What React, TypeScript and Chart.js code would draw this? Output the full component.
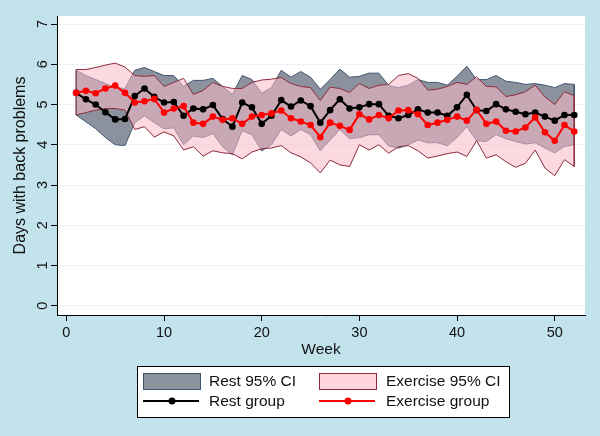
import { useEffect, useRef } from "react";
import { Chart, registerables } from "chart.js";

Chart.register(...registerables);

const weeks = [1, 2, 3, 4, 5, 6, 7, 8, 9, 10, 11, 12, 13, 14, 15, 16, 17, 18, 19, 20, 21, 22, 23, 24, 25, 26, 27, 28, 29, 30, 31, 32, 33, 34, 35, 36, 37, 38, 39, 40, 41, 42, 43, 44, 45, 46, 47, 48, 49, 50, 51, 52];

const restMean = [5.29, 5.13, 5.0, 4.81, 4.63, 4.64, 5.21, 5.4, 5.19, 5.05, 5.06, 4.72, 4.9, 4.88, 4.99, 4.64, 4.45, 5.05, 4.93, 4.52, 4.72, 5.11, 4.95, 5.1, 4.96, 4.55, 4.86, 5.13, 4.9, 4.93, 5.01, 5.01, 4.72, 4.66, 4.74, 4.88, 4.8, 4.8, 4.72, 4.93, 5.24, 4.86, 4.84, 5.01, 4.88, 4.82, 4.76, 4.8, 4.7, 4.6, 4.74, 4.74];
const restLo = [4.74, 4.57, 4.4, 4.18, 4.0, 3.98, 4.55, 4.72, 4.55, 4.4, 4.42, 4.0, 4.22, 4.18, 4.28, 3.95, 3.75, 4.35, 4.25, 3.85, 4.0, 4.38, 4.22, 4.38, 4.25, 3.85, 4.12, 4.38, 4.15, 4.18, 4.25, 4.25, 3.97, 3.92, 4.0, 4.12, 4.05, 4.05, 3.98, 4.18, 4.45, 4.1, 4.08, 4.25, 4.15, 4.08, 4.02, 4.05, 3.92, 3.8, 3.96, 4.0];
const restHi = [5.85, 5.72, 5.62, 5.52, 5.42, 5.4, 5.85, 5.92, 5.82, 5.72, 5.72, 5.45, 5.6, 5.6, 5.65, 5.45, 5.25, 5.72, 5.62, 5.28, 5.42, 5.85, 5.68, 5.82, 5.68, 5.38, 5.62, 5.88, 5.68, 5.7, 5.78, 5.78, 5.47, 5.42, 5.48, 5.62, 5.55, 5.55, 5.48, 5.7, 5.95, 5.62, 5.62, 5.72, 5.58, 5.55, 5.5, 5.52, 5.48, 5.42, 5.52, 5.5];

const exMean = [5.29, 5.34, 5.28, 5.4, 5.47, 5.29, 5.05, 5.08, 5.14, 4.8, 4.9, 4.96, 4.55, 4.52, 4.7, 4.62, 4.66, 4.52, 4.7, 4.74, 4.78, 4.85, 4.66, 4.58, 4.49, 4.19, 4.55, 4.47, 4.37, 4.76, 4.63, 4.74, 4.66, 4.85, 4.86, 4.76, 4.49, 4.55, 4.62, 4.7, 4.6, 4.87, 4.52, 4.58, 4.35, 4.33, 4.43, 4.68, 4.31, 4.1, 4.49, 4.33];
const exLo = [4.74, 4.8, 4.86, 4.9, 4.9, 4.86, 4.38, 4.45, 4.19, 4.32, 4.22, 3.87, 3.95, 3.72, 3.85, 3.8, 3.78, 3.65, 3.82, 3.9, 3.92, 3.98, 3.8, 3.7, 3.55, 3.3, 3.62, 3.5, 3.46, 4.0, 3.87, 4.0, 3.79, 3.95, 3.98, 3.85, 3.67, 3.72, 3.78, 3.82, 3.71, 4.1, 3.67, 3.75, 3.58, 3.44, 3.54, 3.87, 3.42, 3.23, 3.63, 3.46];
const exHi = [5.87, 5.87, 5.92, 5.98, 6.03, 5.93, 5.72, 5.7, 5.72, 5.45, 5.55, 5.65, 5.25, 5.35, 5.55, 5.45, 5.4, 5.4, 5.55, 5.61, 5.63, 5.67, 5.52, 5.45, 5.42, 5.1, 5.43, 5.4, 5.3, 5.52, 5.4, 5.48, 5.5, 5.72, 5.77, 5.65, 5.36, 5.38, 5.45, 5.55, 5.5, 5.69, 5.45, 5.44, 5.2, 5.24, 5.32, 5.48, 5.19, 5.0, 5.32, 5.22];

const xTicks = [0, 10, 20, 30, 40, 50];
const yTicks = [0, 1, 2, 3, 4, 5, 6, 7];
const legendLabels = ["Rest 95% CI", "Exercise 95% CI", "Rest group", "Exercise group"];
const xTitle = "Week";
const yTitle = "Days with back problems";

const BG = "#c3e3ec";
const REST_FILL = "rgb(140,146,157)";
const REST_EDGE = "#3e5570";
const EX_FILL = "rgba(250,185,202,0.56)";
const EX_LEGEND_FILL = "rgb(254,212,222)";
const EX_EDGE = "#8e2c3c";
const FONT = "'Liberation Sans', Arial, Helvetica, sans-serif";

export default function App() {
  const ref = useRef<HTMLCanvasElement | null>(null);

  useEffect(() => {
    const pts = (ys: number[]) => weeks.map((w, i) => ({ x: w, y: ys[i] }));
    const outline = (lo: number[], hi: number[]) => [
      ...pts(hi),
      ...pts(lo).reverse(),
      { x: weeks[0], y: hi[0] },
    ];

    const bgPlugin = {
      id: "stataBg",
      beforeDraw(chart: any) {
        const { ctx, chartArea: a, width, height } = chart;
        ctx.save();
        ctx.fillStyle = BG;
        ctx.fillRect(0, 0, width, height);
        ctx.fillStyle = "#ffffff";
        ctx.fillRect(a.left, a.top, a.right - a.left, a.bottom - a.top);
        ctx.restore();
      },
    };

    const legendPlugin = {
      id: "stataLegend",
      afterDraw(chart: any) {
        const { ctx, chartArea: a } = chart;
        const cx = (a.left + a.right) / 2 + 1.5;
        const bw = 372;
        const bh = 51;
        const bx = Math.round(cx - bw / 2);
        const by = 366;
        ctx.save();
        ctx.fillStyle = "#ffffff";
        ctx.fillRect(bx, by, bw, bh);
        ctx.strokeStyle = "#000";
        ctx.lineWidth = 1;
        ctx.strokeRect(bx + 0.5, by + 0.5, bw, bh);

        const col = [bx + 6, bx + 182];
        const textX = [bx + 72, bx + 249];
        const row = [by + 15, by + 35];
        ctx.fillStyle = REST_FILL;
        ctx.fillRect(col[0], row[0] - 8, 57, 16);
        ctx.strokeStyle = REST_EDGE;
        ctx.strokeRect(col[0] + 0.5, row[0] - 7.5, 57, 16);
        ctx.fillStyle = EX_LEGEND_FILL;
        ctx.fillRect(col[1], row[0] - 8, 57, 16);
        ctx.strokeStyle = EX_EDGE;
        ctx.strokeRect(col[1] + 0.5, row[0] - 7.5, 57, 16);
        const lineSym = (x: number, color: string) => {
          ctx.strokeStyle = color;
          ctx.lineWidth = 2;
          ctx.beginPath();
          ctx.moveTo(x, row[1]);
          ctx.lineTo(x + 56, row[1]);
          ctx.stroke();
          ctx.fillStyle = color;
          ctx.beginPath();
          ctx.arc(x + 29, row[1], 3.5, 0, Math.PI * 2);
          ctx.fill();
        };
        lineSym(col[0], "#000000");
        lineSym(col[1], "#ff0000");
        ctx.fillStyle = "#111";
        ctx.font = `15.5px ${FONT}`;
        ctx.textBaseline = "middle";
        ctx.textAlign = "left";
        ctx.fillText(legendLabels[0], textX[0], row[0] + 1);
        ctx.fillText(legendLabels[1], textX[1], row[0] + 1);
        ctx.fillText(legendLabels[2], textX[0], row[1] + 1);
        ctx.fillText(legendLabels[3], textX[1], row[1] + 1);
        ctx.restore();
      },
    };

    const band = { pointRadius: 0, borderWidth: 0, borderColor: "transparent", tension: 0 };

    const chart = new Chart(ref.current as HTMLCanvasElement, {
      type: "line",
      data: {
        datasets: [
          {
            label: legendLabels[3],
            data: pts(exMean),
            borderColor: "#ff0000",
            backgroundColor: "#ff0000",
            borderWidth: 2,
            pointRadius: 3.3,
            pointBorderWidth: 0,
            pointBackgroundColor: "#ff0000",
            fill: false,
            tension: 0,
            order: 1,
          },
          {
            label: legendLabels[2],
            data: pts(restMean),
            borderColor: "#000000",
            backgroundColor: "#000000",
            borderWidth: 2,
            pointRadius: 3.3,
            pointBorderWidth: 0,
            pointBackgroundColor: "#000000",
            fill: false,
            tension: 0,
            order: 2,
          },
          { label: "restHi", data: pts(restHi), ...band, fill: false, order: 10 },
          { label: legendLabels[0], data: pts(restLo), ...band, fill: 2, backgroundColor: REST_FILL, order: 9 },
          { label: "restEdge", data: outline(restLo, restHi), pointRadius: 0, borderWidth: 1, borderColor: REST_EDGE, fill: false, tension: 0, order: 8 },
          { label: "exHi", data: pts(exHi), ...band, fill: false, order: 7 },
          { label: legendLabels[1], data: pts(exLo), ...band, fill: 5, backgroundColor: EX_FILL, order: 6 },
          { label: "exEdge", data: outline(exLo, exHi), pointRadius: 0, borderWidth: 1, borderColor: EX_EDGE, fill: false, tension: 0, order: 5 },
        ],
      },
      options: {
        animation: false,
        responsive: false,
        events: [],
        layout: { padding: { left: 0, right: 15, top: 16, bottom: 77 } },
        plugins: {
          legend: { display: false },
          tooltip: { enabled: false },
          title: { display: false },
        },
        scales: {
          x: {
            type: "linear",
            min: -0.96,
            max: 53.1,
            afterFit: (s: any) => {
              s.height = 44;
            },
            afterBuildTicks: (s: any) => {
              s.ticks = xTicks.map((v) => ({ value: v }));
            },
            ticks: {
              autoSkip: false,
              maxRotation: 0,
              minRotation: 0,
              padding: 3,
              color: "#111",
              font: { family: FONT, size: 14.5 },
            },
            grid: {
              drawOnChartArea: false,
              drawTicks: true,
              tickLength: 6,
              tickColor: "#000",
              tickWidth: 1,
            },
            border: { display: true, color: "#000", width: 1 },
            title: {
              display: true,
              text: xTitle,
              color: "#111",
              font: { family: FONT, size: 15.5 },
              padding: { top: 0, bottom: 0 },
            },
          },
          y: {
            type: "linear",
            min: -0.23,
            max: 7.2,
            afterFit: (s: any) => {
              s.width = 57;
            },
            afterBuildTicks: (s: any) => {
              s.ticks = yTicks.map((v) => ({ value: v }));
            },
            ticks: {
              autoSkip: false,
              minRotation: 90,
              maxRotation: 90,
              crossAlign: "center",
              padding: 4,
              color: "#111",
              font: { family: FONT, size: 14.5 },
            },
            grid: {
              drawOnChartArea: true,
              color: "#eef2f4",
              lineWidth: 1,
              drawTicks: true,
              tickLength: 6,
              tickColor: "#000",
              tickWidth: 1,
            },
            border: { display: true, color: "#000", width: 1 },
            title: {
              display: true,
              text: yTitle,
              color: "#111",
              font: { family: FONT, size: 16 },
              padding: { top: 11, bottom: 0 },
            },
          },
        },
      },
      plugins: [bgPlugin, legendPlugin],
    } as any);

    return () => chart.destroy();
  }, []);

  return (
    <div style={{ position: "fixed", left: 0, top: 0, width: 600, height: 436, background: BG }}>
      <canvas ref={ref} width={600} height={436} style={{ width: 600, height: 436, display: "block" }} />
    </div>
  );
}
